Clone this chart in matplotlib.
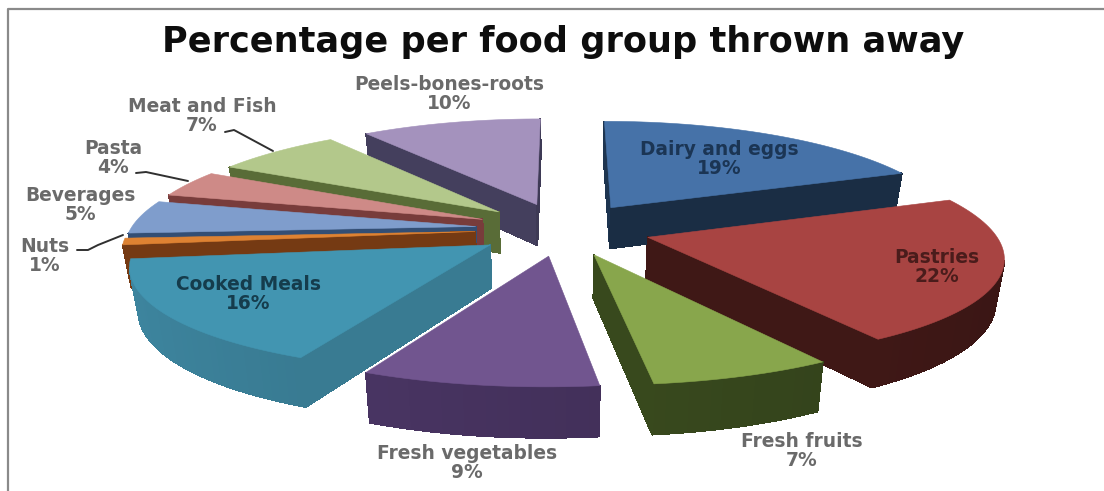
import numpy as np
import matplotlib
matplotlib.use('Agg')
import matplotlib.pyplot as plt
from matplotlib.patches import Polygon

# food groups, clockwise from 12 o'clock
categories = ['Dairy and eggs', 'Pastries', 'Fresh fruits', 'Fresh vegetables', 'Cooked Meals',
              'Nuts', 'Beverages', 'Pasta', 'Meat and Fish', 'Peels-bones-roots']
percent = [19, 22, 7, 9, 16, 1, 5, 4, 7, 10]

top_colors = ['#4672A8', '#A84442', '#88A64C', '#71558F', '#4295B1',
              '#DE8232', '#7F9DCC', '#CE8A87', '#B3C88B', '#A492BD']
side_colors = ['#1E3550', '#451A18', '#394A1E', '#44315C', '#357389',
               '#653210', '#2C4364', '#683433', '#4E5F30', '#3E3A55']
label_colors = ['#1B3554', '#4A1C1B', '#6A6A6A', '#6A6A6A', '#153C4C',
                '#6A6A6A', '#6A6A6A', '#6A6A6A', '#6A6A6A', '#6A6A6A']
label_xy = [(719, 159), (937, 267), (802, 451), (467, 463), (248, 294),
            (45, 256), (80, 205), (113, 158), (202, 116), (449, 94)]
# Nuts, Pasta, Meat and Fish have leader lines
leaders = [[(77, 250), (88, 250), (98, 245), (123, 235)],
           [(136, 173), (146, 172), (188, 181)],
           [(225, 132), (234, 130), (273, 151)]]

CX, CY = 563, 229
RX, RY = 345, 104
PERSP_X, PERSP_Y = 0.16, 0.14
EXPLODE = 0.255
DEPTH = 42


def project(x, y, z=0.0):
    sx = 1 / (1 + PERSP_X * y)
    sy = 1 / (1 + PERSP_Y * y)
    return CX + RX * x * sx * (1 - 0.02 * z), CY - RY * y * sy + DEPTH * z * sy


def shade(color, theta):
    # left side of the pie catches a bit more light
    rgb = np.array(matplotlib.colors.to_rgb(color))
    return tuple(np.clip(rgb * (1 - 0.16 * np.sin(theta)), 0, 1))


def draw_slice(ax, a0, a1, top, side):
    mid = (a0 + a1) / 2
    ox, oy = EXPLODE * np.sin(mid), EXPLODE * np.cos(mid)
    th = np.linspace(a0, a1, max(4, int((a1 - a0) * 40)))
    xs = np.concatenate([[ox], ox + np.sin(th), [ox]])
    ys = np.concatenate([[oy], oy + np.cos(th), [oy]])
    thetas = np.concatenate([[a0], th])
    px, py = project(xs, ys)
    bx, by = project(xs, ys, 1.0)
    for i in range(len(xs) - 1):
        if px[i + 1] - px[i] >= 0:
            continue
        quad = [(px[i], py[i]), (px[i + 1], py[i + 1]), (bx[i + 1], by[i + 1]), (bx[i], by[i])]
        c = shade(side, thetas[i])
        # no antialiasing inside the strips, otherwise seams show between them
        ax.add_patch(Polygon(quad, closed=True, fc=c, ec=c, lw=0.6, antialiased=False))
    ax.add_patch(Polygon(np.column_stack([px[:-1], py[:-1]]), closed=True, fc=top, ec=top, lw=0.4))


fig = plt.figure(figsize=(11.04, 4.91), dpi=100)
ax = fig.add_axes([0, 0, 1, 1])
ax.set_xlim(0, 1104)
ax.set_ylim(491, 0)
ax.axis('off')

# outer frame, only top and left survive
ax.plot([8, 8, 1104], [491, 9, 9], color='#8A8A8A', lw=1.6)

edges = np.radians(np.cumsum([0] + percent) * 3.6)
mids = (edges[:-1] + edges[1:]) / 2
# paint back to front
order = np.argsort(-np.cos(mids))
for i in order:
    draw_slice(ax, edges[i], edges[i + 1], top_colors[i], side_colors[i])

for pts in leaders:
    ax.plot(*zip(*pts), color='#303030', lw=1.4, solid_capstyle='round')

for name, val, (x, y), c in zip(categories, percent, label_xy, label_colors):
    ax.text(x, y, '%s\n%d%%' % (name, val), ha='center', va='center', color=c,
            fontsize=13.4, fontweight='bold', family='DejaVu Sans', linespacing=1.02)

ax.text(563, 42, 'Percentage per food group thrown away', ha='center', va='center',
        fontsize=25.3, fontweight='bold', family='DejaVu Sans', color='#0D0D0D')

fig.savefig('out.png', dpi=100)
